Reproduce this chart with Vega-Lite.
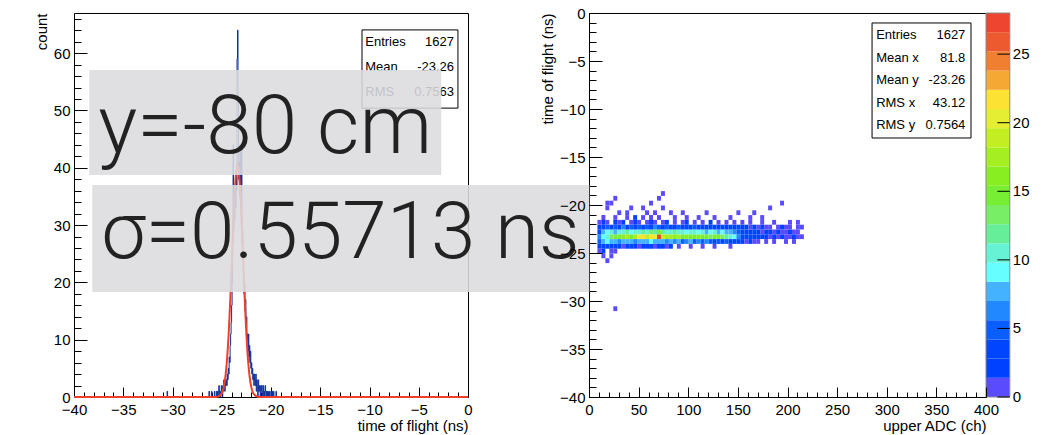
{
  "$schema": "https://vega.github.io/schema/vega-lite/v6.json",
  "background": "white",
  "padding": {"left": 33, "top": 5, "right": 0, "bottom": 0},
  "bounds": "flush",
  "spacing": 121,
  "config": {
    "view": {"stroke": "#000", "strokeWidth": 1},
    "font": "Liberation Sans",
    "axis": {"grid": false, "domain": false, "labelFont": "Liberation Sans", "labelFontSize": 15, "labelColor": "#000", "titleFont": "Liberation Sans", "titleFontSize": 15, "titleFontWeight": "normal", "titleColor": "#000", "tickColor": "#000", "tickWidth": 1, "labelFlush": false, "labelOverlap": false}
  },
  "datasets": {
    "hist": [
      {"t": -40, "n": 0}, {"t": -30.55, "n": 1}, {"t": -30.5, "n": 0}, {"t": -26.3, "n": 1}, {"t": -26.25, "n": 0},
      {"t": -26.05, "n": 1}, {"t": -26.0, "n": 0}, {"t": -25.75, "n": 1}, {"t": -25.7, "n": 0}, {"t": -25.55, "n": 1},
      {"t": -25.5, "n": 0}, {"t": -25.45, "n": 1}, {"t": -25.4, "n": 0}, {"t": -25.35, "n": 1}, {"t": -25.3, "n": 2},
      {"t": -25.25, "n": 0}, {"t": -25.2, "n": 1}, {"t": -25.15, "n": 0}, {"t": -25.1, "n": 1}, {"t": -25.05, "n": 2},
      {"t": -25.0, "n": 1}, {"t": -24.95, "n": 0}, {"t": -24.9, "n": 2}, {"t": -24.85, "n": 1}, {"t": -24.8, "n": 3},
      {"t": -24.75, "n": 2}, {"t": -24.7, "n": 1}, {"t": -24.65, "n": 3}, {"t": -24.6, "n": 2}, {"t": -24.55, "n": 3},
      {"t": -24.5, "n": 2}, {"t": -24.45, "n": 4}, {"t": -24.4, "n": 3}, {"t": -24.35, "n": 5}, {"t": -24.3, "n": 4},
      {"t": -24.25, "n": 7}, {"t": -24.2, "n": 6}, {"t": -24.15, "n": 9}, {"t": -24.1, "n": 11}, {"t": -24.05, "n": 13},
      {"t": -24.0, "n": 16}, {"t": -23.95, "n": 20}, {"t": -23.9, "n": 27}, {"t": -23.85, "n": 44}, {"t": -23.8, "n": 29},
      {"t": -23.75, "n": 35}, {"t": -23.7, "n": 31}, {"t": -23.65, "n": 37}, {"t": -23.6, "n": 33}, {"t": -23.55, "n": 39},
      {"t": -23.5, "n": 36}, {"t": -23.45, "n": 59}, {"t": -23.4, "n": 64}, {"t": -23.35, "n": 52}, {"t": -23.3, "n": 38},
      {"t": -23.25, "n": 41}, {"t": -23.2, "n": 35}, {"t": -23.15, "n": 44}, {"t": -23.1, "n": 37}, {"t": -23.05, "n": 32},
      {"t": -23.0, "n": 44}, {"t": -22.95, "n": 27}, {"t": -22.9, "n": 29}, {"t": -22.85, "n": 24}, {"t": -22.8, "n": 22},
      {"t": -22.75, "n": 18}, {"t": -22.7, "n": 20}, {"t": -22.65, "n": 15}, {"t": -22.6, "n": 17}, {"t": -22.55, "n": 12},
      {"t": -22.5, "n": 14}, {"t": -22.45, "n": 10}, {"t": -22.4, "n": 11}, {"t": -22.35, "n": 8}, {"t": -22.3, "n": 11},
      {"t": -22.25, "n": 7}, {"t": -22.2, "n": 9}, {"t": -22.15, "n": 6}, {"t": -22.1, "n": 8}, {"t": -22.05, "n": 5},
      {"t": -22.0, "n": 6}, {"t": -21.95, "n": 4}, {"t": -21.9, "n": 5}, {"t": -21.85, "n": 3}, {"t": -21.8, "n": 4},
      {"t": -21.75, "n": 2}, {"t": -21.7, "n": 4}, {"t": -21.65, "n": 3}, {"t": -21.6, "n": 2}, {"t": -21.55, "n": 4},
      {"t": -21.5, "n": 1}, {"t": -21.45, "n": 3}, {"t": -21.4, "n": 2}, {"t": -21.35, "n": 0}, {"t": -21.3, "n": 3},
      {"t": -21.25, "n": 1}, {"t": -21.2, "n": 2}, {"t": -21.15, "n": 1}, {"t": -21.1, "n": 0}, {"t": -21.05, "n": 2},
      {"t": -21.0, "n": 1}, {"t": -20.95, "n": 2}, {"t": -20.9, "n": 0}, {"t": -20.85, "n": 1}, {"t": -20.8, "n": 2},
      {"t": -20.75, "n": 0}, {"t": -20.7, "n": 1}, {"t": -20.65, "n": 0}, {"t": -20.6, "n": 2}, {"t": -20.55, "n": 1},
      {"t": -20.5, "n": 0}, {"t": -20.45, "n": 1}, {"t": -20.4, "n": 0}, {"t": -20.35, "n": 1}, {"t": -20.3, "n": 1},
      {"t": -20.25, "n": 0}, {"t": -20.15, "n": 1}, {"t": -20.1, "n": 0}, {"t": -20.0, "n": 1}, {"t": -19.95, "n": 0},
      {"t": -19.9, "n": 1}, {"t": -19.85, "n": 0}, {"t": -19.75, "n": 1}, {"t": -19.7, "n": 0}, {"t": -19.5, "n": 1},
      {"t": -19.45, "n": 0}, {"t": 0, "n": 0}
    ],
    "fit": [
      {"t": -40, "f": 0}, {"t": -25.6, "f": 0}, {"t": -25.4, "f": 0.06}, {"t": -25.2, "f": 0.22}, {"t": -25.0, "f": 0.65},
      {"t": -24.9, "f": 1.08}, {"t": -24.8, "f": 1.72}, {"t": -24.7, "f": 2.66}, {"t": -24.6, "f": 3.98}, {"t": -24.5, "f": 5.76},
      {"t": -24.4, "f": 8.08}, {"t": -24.3, "f": 10.98}, {"t": -24.2, "f": 14.44}, {"t": -24.1, "f": 18.39}, {"t": -24.0, "f": 22.67},
      {"t": -23.9, "f": 27.07}, {"t": -23.8, "f": 31.29}, {"t": -23.7, "f": 35.03}, {"t": -23.6, "f": 37.97}, {"t": -23.5, "f": 39.85},
      {"t": -23.4, "f": 40.5}, {"t": -23.3, "f": 39.85}, {"t": -23.2, "f": 37.97}, {"t": -23.1, "f": 35.03}, {"t": -23.0, "f": 31.29},
      {"t": -22.9, "f": 27.07}, {"t": -22.8, "f": 22.67}, {"t": -22.7, "f": 18.39}, {"t": -22.6, "f": 14.44}, {"t": -22.5, "f": 10.98},
      {"t": -22.4, "f": 8.08}, {"t": -22.3, "f": 5.76}, {"t": -22.2, "f": 3.98}, {"t": -22.1, "f": 2.66}, {"t": -22.0, "f": 1.72},
      {"t": -21.9, "f": 1.08}, {"t": -21.8, "f": 0.65}, {"t": -21.6, "f": 0.22}, {"t": -21.4, "f": 0.06}, {"t": -21.2, "f": 0},
      {"t": 0, "f": 0}
    ],
    "h2": [
      {"a": 8, "t": -23.5, "c": 6}, {"a": 12, "t": -23.5, "c": 9}, {"a": 16, "t": -23.5, "c": 11}, {"a": 20, "t": -23.5, "c": 13},
      {"a": 24, "t": -23.5, "c": 15}, {"a": 28, "t": -23.5, "c": 14}, {"a": 32, "t": -23.5, "c": 16}, {"a": 36, "t": -23.5, "c": 17},
      {"a": 40, "t": -23.5, "c": 15}, {"a": 44, "t": -23.5, "c": 18}, {"a": 48, "t": -23.5, "c": 20}, {"a": 52, "t": -23.5, "c": 21},
      {"a": 56, "t": -23.5, "c": 19}, {"a": 60, "t": -23.5, "c": 22}, {"a": 64, "t": -23.5, "c": 20}, {"a": 68, "t": -23.5, "c": 27},
      {"a": 72, "t": -23.5, "c": 19}, {"a": 76, "t": -23.5, "c": 17}, {"a": 80, "t": -23.5, "c": 18}, {"a": 84, "t": -23.5, "c": 16},
      {"a": 88, "t": -23.5, "c": 17}, {"a": 92, "t": -23.5, "c": 15}, {"a": 96, "t": -23.5, "c": 16}, {"a": 100, "t": -23.5, "c": 14},
      {"a": 104, "t": -23.5, "c": 15}, {"a": 108, "t": -23.5, "c": 16}, {"a": 112, "t": -23.5, "c": 14}, {"a": 116, "t": -23.5, "c": 15},
      {"a": 120, "t": -23.5, "c": 13}, {"a": 124, "t": -23.5, "c": 14}, {"a": 128, "t": -23.5, "c": 15}, {"a": 132, "t": -23.5, "c": 13},
      {"a": 136, "t": -23.5, "c": 12}, {"a": 140, "t": -23.5, "c": 11}, {"a": 144, "t": -23.5, "c": 9}, {"a": 148, "t": -23.5, "c": 6},
      {"a": 152, "t": -23.5, "c": 4}, {"a": 156, "t": -23.5, "c": 3}, {"a": 160, "t": -23.5, "c": 3}, {"a": 164, "t": -23.5, "c": 2},
      {"a": 168, "t": -23.5, "c": 3}, {"a": 172, "t": -23.5, "c": 2}, {"a": 176, "t": -23.5, "c": 2}, {"a": 180, "t": -23.5, "c": 1},
      {"a": 184, "t": -23.5, "c": 2}, {"a": 188, "t": -23.5, "c": 1}, {"a": 192, "t": -23.5, "c": 2}, {"a": 196, "t": -23.5, "c": 1},
      {"a": 200, "t": -23.5, "c": 1}, {"a": 204, "t": -23.5, "c": 2}, {"a": 208, "t": -23.5, "c": 1}, {"a": 212, "t": -23.5, "c": 1},

      {"a": 8, "t": -23.0, "c": 4}, {"a": 12, "t": -23.0, "c": 7}, {"a": 16, "t": -23.0, "c": 9}, {"a": 20, "t": -23.0, "c": 10},
      {"a": 24, "t": -23.0, "c": 8}, {"a": 28, "t": -23.0, "c": 11}, {"a": 32, "t": -23.0, "c": 10}, {"a": 36, "t": -23.0, "c": 12},
      {"a": 40, "t": -23.0, "c": 9}, {"a": 44, "t": -23.0, "c": 11}, {"a": 48, "t": -23.0, "c": 10}, {"a": 52, "t": -23.0, "c": 12},
      {"a": 56, "t": -23.0, "c": 11}, {"a": 60, "t": -23.0, "c": 13}, {"a": 64, "t": -23.0, "c": 12}, {"a": 68, "t": -23.0, "c": 14},
      {"a": 72, "t": -23.0, "c": 12}, {"a": 76, "t": -23.0, "c": 10}, {"a": 80, "t": -23.0, "c": 11}, {"a": 84, "t": -23.0, "c": 12},
      {"a": 88, "t": -23.0, "c": 10}, {"a": 92, "t": -23.0, "c": 11}, {"a": 96, "t": -23.0, "c": 9}, {"a": 100, "t": -23.0, "c": 10},
      {"a": 104, "t": -23.0, "c": 11}, {"a": 108, "t": -23.0, "c": 9}, {"a": 112, "t": -23.0, "c": 10}, {"a": 116, "t": -23.0, "c": 8},
      {"a": 120, "t": -23.0, "c": 9}, {"a": 124, "t": -23.0, "c": 10}, {"a": 128, "t": -23.0, "c": 8}, {"a": 132, "t": -23.0, "c": 9},
      {"a": 136, "t": -23.0, "c": 7}, {"a": 140, "t": -23.0, "c": 8}, {"a": 144, "t": -23.0, "c": 6}, {"a": 148, "t": -23.0, "c": 5},
      {"a": 152, "t": -23.0, "c": 3}, {"a": 156, "t": -23.0, "c": 4}, {"a": 160, "t": -23.0, "c": 2}, {"a": 164, "t": -23.0, "c": 3},
      {"a": 168, "t": -23.0, "c": 2}, {"a": 172, "t": -23.0, "c": 1}, {"a": 176, "t": -23.0, "c": 2}, {"a": 180, "t": -23.0, "c": 2},
      {"a": 184, "t": -23.0, "c": 1}, {"a": 188, "t": -23.0, "c": 2}, {"a": 192, "t": -23.0, "c": 1}, {"a": 196, "t": -23.0, "c": 1},
      {"a": 200, "t": -23.0, "c": 2}, {"a": 204, "t": -23.0, "c": 1}, {"a": 208, "t": -23.0, "c": 1},

      {"a": 8, "t": -24.0, "c": 5}, {"a": 12, "t": -24.0, "c": 8}, {"a": 16, "t": -24.0, "c": 9}, {"a": 20, "t": -24.0, "c": 7},
      {"a": 24, "t": -24.0, "c": 8}, {"a": 28, "t": -24.0, "c": 6}, {"a": 32, "t": -24.0, "c": 8}, {"a": 36, "t": -24.0, "c": 7},
      {"a": 40, "t": -24.0, "c": 8}, {"a": 44, "t": -24.0, "c": 6}, {"a": 48, "t": -24.0, "c": 7}, {"a": 52, "t": -24.0, "c": 8},
      {"a": 56, "t": -24.0, "c": 7}, {"a": 60, "t": -24.0, "c": 9}, {"a": 64, "t": -24.0, "c": 8}, {"a": 68, "t": -24.0, "c": 7},
      {"a": 72, "t": -24.0, "c": 8}, {"a": 76, "t": -24.0, "c": 6}, {"a": 80, "t": -24.0, "c": 7}, {"a": 84, "t": -24.0, "c": 6},
      {"a": 88, "t": -24.0, "c": 7}, {"a": 92, "t": -24.0, "c": 5}, {"a": 96, "t": -24.0, "c": 6}, {"a": 100, "t": -24.0, "c": 7},
      {"a": 104, "t": -24.0, "c": 5}, {"a": 108, "t": -24.0, "c": 6}, {"a": 112, "t": -24.0, "c": 5}, {"a": 116, "t": -24.0, "c": 6},
      {"a": 120, "t": -24.0, "c": 5}, {"a": 124, "t": -24.0, "c": 4}, {"a": 128, "t": -24.0, "c": 5}, {"a": 132, "t": -24.0, "c": 4},
      {"a": 136, "t": -24.0, "c": 5}, {"a": 140, "t": -24.0, "c": 3}, {"a": 144, "t": -24.0, "c": 4}, {"a": 148, "t": -24.0, "c": 3},
      {"a": 152, "t": -24.0, "c": 2}, {"a": 156, "t": -24.0, "c": 1}, {"a": 160, "t": -24.0, "c": 2}, {"a": 164, "t": -24.0, "c": 1},
      {"a": 168, "t": -24.0, "c": 1}, {"a": 176, "t": -24.0, "c": 1}, {"a": 184, "t": -24.0, "c": 1}, {"a": 196, "t": -24.0, "c": 1},
      {"a": 204, "t": -24.0, "c": 1},

      {"a": 8, "t": -24.5, "c": 3}, {"a": 12, "t": -24.5, "c": 4}, {"a": 16, "t": -24.5, "c": 3}, {"a": 20, "t": -24.5, "c": 2},
      {"a": 24, "t": -24.5, "c": 3}, {"a": 28, "t": -24.5, "c": 2}, {"a": 32, "t": -24.5, "c": 1}, {"a": 36, "t": -24.5, "c": 2},
      {"a": 40, "t": -24.5, "c": 3}, {"a": 44, "t": -24.5, "c": 2}, {"a": 48, "t": -24.5, "c": 1}, {"a": 52, "t": -24.5, "c": 2},
      {"a": 56, "t": -24.5, "c": 2}, {"a": 60, "t": -24.5, "c": 3}, {"a": 64, "t": -24.5, "c": 1}, {"a": 68, "t": -24.5, "c": 2},
      {"a": 72, "t": -24.5, "c": 2}, {"a": 76, "t": -24.5, "c": 1}, {"a": 80, "t": -24.5, "c": 2}, {"a": 88, "t": -24.5, "c": 1},
      {"a": 100, "t": -24.5, "c": 1}, {"a": 112, "t": -24.5, "c": 1}, {"a": 124, "t": -24.5, "c": 1}, {"a": 140, "t": -24.5, "c": 1},

      {"a": 8, "t": -22.5, "c": 3}, {"a": 12, "t": -22.5, "c": 4}, {"a": 16, "t": -22.5, "c": 5}, {"a": 20, "t": -22.5, "c": 4},
      {"a": 24, "t": -22.5, "c": 5}, {"a": 28, "t": -22.5, "c": 4}, {"a": 32, "t": -22.5, "c": 6}, {"a": 36, "t": -22.5, "c": 4},
      {"a": 40, "t": -22.5, "c": 5}, {"a": 44, "t": -22.5, "c": 4}, {"a": 48, "t": -22.5, "c": 5}, {"a": 52, "t": -22.5, "c": 3},
      {"a": 56, "t": -22.5, "c": 5}, {"a": 60, "t": -22.5, "c": 4}, {"a": 64, "t": -22.5, "c": 6}, {"a": 68, "t": -22.5, "c": 5},
      {"a": 72, "t": -22.5, "c": 4}, {"a": 76, "t": -22.5, "c": 5}, {"a": 80, "t": -22.5, "c": 3}, {"a": 84, "t": -22.5, "c": 4},
      {"a": 88, "t": -22.5, "c": 5}, {"a": 92, "t": -22.5, "c": 4}, {"a": 96, "t": -22.5, "c": 3}, {"a": 100, "t": -22.5, "c": 4},
      {"a": 104, "t": -22.5, "c": 5}, {"a": 108, "t": -22.5, "c": 3}, {"a": 112, "t": -22.5, "c": 4}, {"a": 116, "t": -22.5, "c": 3},
      {"a": 120, "t": -22.5, "c": 4}, {"a": 124, "t": -22.5, "c": 3}, {"a": 128, "t": -22.5, "c": 4}, {"a": 132, "t": -22.5, "c": 3},
      {"a": 136, "t": -22.5, "c": 2}, {"a": 140, "t": -22.5, "c": 3}, {"a": 144, "t": -22.5, "c": 2}, {"a": 148, "t": -22.5, "c": 3},
      {"a": 152, "t": -22.5, "c": 2}, {"a": 156, "t": -22.5, "c": 2}, {"a": 160, "t": -22.5, "c": 1}, {"a": 164, "t": -22.5, "c": 2},
      {"a": 168, "t": -22.5, "c": 1}, {"a": 172, "t": -22.5, "c": 2}, {"a": 176, "t": -22.5, "c": 1}, {"a": 180, "t": -22.5, "c": 1},
      {"a": 188, "t": -22.5, "c": 1}, {"a": 192, "t": -22.5, "c": 2}, {"a": 196, "t": -22.5, "c": 1}, {"a": 200, "t": -22.5, "c": 1},
      {"a": 208, "t": -22.5, "c": 1}, {"a": 212, "t": -22.5, "c": 1},

      {"a": 8, "t": -22.0, "c": 1}, {"a": 12, "t": -22.0, "c": 2}, {"a": 16, "t": -22.0, "c": 1}, {"a": 24, "t": -22.0, "c": 2},
      {"a": 28, "t": -22.0, "c": 1}, {"a": 32, "t": -22.0, "c": 2}, {"a": 40, "t": -22.0, "c": 1}, {"a": 44, "t": -22.0, "c": 2},
      {"a": 48, "t": -22.0, "c": 1}, {"a": 56, "t": -22.0, "c": 1}, {"a": 60, "t": -22.0, "c": 2}, {"a": 64, "t": -22.0, "c": 1},
      {"a": 72, "t": -22.0, "c": 1}, {"a": 76, "t": -22.0, "c": 2}, {"a": 84, "t": -22.0, "c": 1}, {"a": 92, "t": -22.0, "c": 1},
      {"a": 96, "t": -22.0, "c": 2}, {"a": 104, "t": -22.0, "c": 1}, {"a": 112, "t": -22.0, "c": 1}, {"a": 120, "t": -22.0, "c": 2},
      {"a": 128, "t": -22.0, "c": 1}, {"a": 136, "t": -22.0, "c": 1}, {"a": 144, "t": -22.0, "c": 1}, {"a": 152, "t": -22.0, "c": 1},
      {"a": 160, "t": -22.0, "c": 1}, {"a": 172, "t": -22.0, "c": 1}, {"a": 184, "t": -22.0, "c": 1}, {"a": 200, "t": -22.0, "c": 1},
      {"a": 208, "t": -22.0, "c": 1},

      {"a": 12, "t": -21.5, "c": 1}, {"a": 24, "t": -21.5, "c": 1}, {"a": 36, "t": -21.5, "c": 1}, {"a": 44, "t": -21.5, "c": 2},
      {"a": 52, "t": -21.5, "c": 1}, {"a": 60, "t": -21.5, "c": 1}, {"a": 68, "t": -21.5, "c": 1}, {"a": 84, "t": -21.5, "c": 1},
      {"a": 96, "t": -21.5, "c": 1}, {"a": 108, "t": -21.5, "c": 1}, {"a": 124, "t": -21.5, "c": 1}, {"a": 140, "t": -21.5, "c": 1},
      {"a": 160, "t": -21.5, "c": 1}, {"a": 172, "t": -21.5, "c": 1},

      {"a": 28, "t": -21.0, "c": 1}, {"a": 36, "t": -21.0, "c": 1}, {"a": 56, "t": -21.0, "c": 1}, {"a": 64, "t": -21.0, "c": 1},
      {"a": 80, "t": -21.0, "c": 1}, {"a": 92, "t": -21.0, "c": 1}, {"a": 116, "t": -21.0, "c": 1}, {"a": 148, "t": -21.0, "c": 1},
      {"a": 164, "t": -21.0, "c": 1},
      {"a": 16, "t": -20.5, "c": 1}, {"a": 40, "t": -20.5, "c": 1}, {"a": 52, "t": -20.5, "c": 1}, {"a": 72, "t": -20.5, "c": 1},
      {"a": 180, "t": -20.5, "c": 1},
      {"a": 16, "t": -20.0, "c": 1}, {"a": 20, "t": -20.0, "c": 1}, {"a": 60, "t": -20.0, "c": 1}, {"a": 192, "t": -20.0, "c": 1},
      {"a": 24, "t": -19.5, "c": 1}, {"a": 68, "t": -19.5, "c": 1}, {"a": 72, "t": -19.0, "c": 1},
      {"a": 8, "t": -25.0, "c": 1}, {"a": 12, "t": -25.0, "c": 2}, {"a": 20, "t": -25.0, "c": 1}, {"a": 24, "t": -25.0, "c": 1},
      {"a": 12, "t": -25.5, "c": 1}, {"a": 20, "t": -25.5, "c": 1}, {"a": 16, "t": -26.0, "c": 1}, {"a": 24, "t": -31.0, "c": 1}
    ],
    "levels": [
      {"lo": 0, "hi": 1.4, "mid": 0.7}, {"lo": 1.4, "hi": 2.8, "mid": 2.1}, {"lo": 2.8, "hi": 4.2, "mid": 3.5},
      {"lo": 4.2, "hi": 5.6, "mid": 4.9}, {"lo": 5.6, "hi": 7.0, "mid": 6.3}, {"lo": 7.0, "hi": 8.4, "mid": 7.7},
      {"lo": 8.4, "hi": 9.8, "mid": 9.1}, {"lo": 9.8, "hi": 11.2, "mid": 10.5}, {"lo": 11.2, "hi": 12.6, "mid": 11.9},
      {"lo": 12.6, "hi": 14.0, "mid": 13.3}, {"lo": 14.0, "hi": 15.4, "mid": 14.7}, {"lo": 15.4, "hi": 16.8, "mid": 16.1},
      {"lo": 16.8, "hi": 18.2, "mid": 17.5}, {"lo": 18.2, "hi": 19.6, "mid": 18.9}, {"lo": 19.6, "hi": 21.0, "mid": 20.3},
      {"lo": 21.0, "hi": 22.4, "mid": 21.7}, {"lo": 22.4, "hi": 23.8, "mid": 23.1}, {"lo": 23.8, "hi": 25.2, "mid": 24.5},
      {"lo": 25.2, "hi": 26.6, "mid": 25.9}, {"lo": 26.6, "hi": 28.0, "mid": 27.3}
    ],
    "zticks": [{"v": 0}, {"v": 5}, {"v": 10}, {"v": 15}, {"v": 20}, {"v": 25}],
    "stats1": [{"labels": "Entries\nMean\nRMS", "values": "1627\n-23.26\n0.7563"}],
    "stats2": [{"labels": "Entries\nMean x\nMean y\nRMS x\nRMS y", "values": "1627\n81.8\n-23.26\n43.12\n0.7564"}]
  },
  "hconcat": [
    {
      "width": 394,
      "height": 384,
      "layer": [
        {
          "data": {"name": "hist"},
          "mark": {"type": "line", "interpolate": "step-after", "color": "#10309a", "strokeWidth": 1},
          "encoding": {
            "x": {"field": "t", "type": "quantitative", "scale": {"domain": [-40, 0], "nice": false, "zero": false},
              "axis": {"orient": "bottom", "values": [-40, -35, -30, -25, -20, -15, -10, -5, 0], "format": "d", "tickSize": -10, "labelPadding": 15, "title": "time of flight (ns)", "titleAnchor": "end", "titlePadding": 1}},
            "y": {"field": "n", "type": "quantitative", "scale": {"domain": [0, 67], "nice": false, "zero": false},
              "axis": {"orient": "left", "values": [0, 10, 20, 30, 40, 50, 60], "format": "d", "tickSize": -13, "labelPadding": 17, "title": "count", "titleAnchor": "end", "titlePadding": 4}}
          }
        },
        {
          "data": {"name": "fit"},
          "mark": {"type": "line", "color": "#f0402a", "strokeWidth": 2},
          "encoding": {
            "x": {"field": "t", "type": "quantitative", "scale": {"domain": [-40, 0], "nice": false, "zero": false},
              "axis": {"orient": "bottom", "values": [-40, -39, -38, -37, -36, -35, -34, -33, -32, -31, -30, -29, -28, -27, -26, -25, -24, -23, -22, -21, -20, -19, -18, -17, -16, -15, -14, -13, -12, -11, -10, -9, -8, -7, -6, -5, -4, -3, -2, -1, 0], "tickSize": -5, "labels": false, "title": null}},
            "y": {"field": "f", "type": "quantitative", "scale": {"domain": [0, 67], "nice": false, "zero": false},
              "axis": {"orient": "left", "values": [0, 2, 4, 6, 8, 10, 12, 14, 16, 18, 20, 22, 24, 26, 28, 30, 32, 34, 36, 38, 40, 42, 44, 46, 48, 50, 52, 54, 56, 58, 60, 62, 64, 66], "tickSize": -7, "labels": false, "title": null}}
          }
        },
        {
          "data": {"name": "stats1"},
          "mark": {"type": "rect", "fill": "#ffffff", "stroke": "#000", "strokeWidth": 1},
          "encoding": {
            "x": {"datum": -10.76, "axis": null}, "x2": {"datum": -1.02},
            "y": {"datum": 64.05, "axis": null}, "y2": {"datum": 50.4}
          }
        },
        {
          "data": {"name": "stats1"},
          "mark": {"type": "text", "align": "left", "baseline": "alphabetic", "lineBreak": "\n", "lineHeight": 25, "fontSize": 13, "font": "Liberation Sans", "color": "#000"},
          "encoding": {"x": {"datum": -10.43, "axis": null}, "y": {"datum": 61.26, "axis": null}, "text": {"field": "labels"}}
        },
        {
          "data": {"name": "stats1"},
          "mark": {"type": "text", "align": "right", "baseline": "alphabetic", "lineBreak": "\n", "lineHeight": 25, "fontSize": 13, "font": "Liberation Sans", "color": "#000"},
          "encoding": {"x": {"datum": -1.42, "axis": null}, "y": {"datum": 61.26, "axis": null}, "text": {"field": "values"}}
        }
      ],
      "resolve": {"axis": {"x": "independent", "y": "independent"}}
    },
    {
      "width": 397,
      "height": 384,
      "layer": [
        {
          "layer": [
            {
              "data": {"name": "h2"},
              "mark": {"type": "rect", "binSpacing": 0},
              "encoding": {
                "x": {"field": "a", "type": "quantitative", "bin": {"binned": true, "step": 4}, "scale": {"domain": [0, 400], "nice": false, "zero": false},
                  "axis": {"orient": "bottom", "values": [0, 50, 100, 150, 200, 250, 300, 350, 400], "format": "d", "tickSize": -10, "labelPadding": 15, "title": "upper ADC (ch)", "titleAnchor": "end", "titlePadding": 1}},
                "y": {"field": "t", "type": "quantitative", "bin": {"binned": true, "step": 0.5}, "scale": {"domain": [-40, 0], "nice": false, "zero": false},
                  "axis": {"orient": "left", "values": [-40, -35, -30, -25, -20, -15, -10, -5, 0], "format": "d", "tickSize": -13, "labelPadding": 17, "title": "time of flight (ns)", "titleAnchor": "end", "titlePadding": 4}},
                "color": {"field": "c", "type": "quantitative", "legend": null,
                  "scale": {"type": "quantize", "domain": [0, 28], "nice": false, "range": ["#5b4bff", "#0040ff", "#0046ff", "#0a5eff", "#2288ff", "#44b2ff", "#66ffff", "#66f2d4", "#66ee99", "#77ee66", "#77ee33", "#88ee22", "#a5ee22", "#c3ee22", "#e5ee33", "#fbe233", "#f5a833", "#f08030", "#ee5a30", "#ee4530"]}}
              }
            },
            {
              "data": {"name": "stats2"},
              "mark": {"type": "rect", "fill": "#ffffff", "stroke": "#000", "strokeWidth": 1},
              "encoding": {
                "x": {"datum": 285.2, "scale": {"domain": [0, 400], "nice": false, "zero": false},
                  "axis": {"orient": "bottom", "values": [0, 10, 20, 30, 40, 50, 60, 70, 80, 90, 100, 110, 120, 130, 140, 150, 160, 170, 180, 190, 200, 210, 220, 230, 240, 250, 260, 270, 280, 290, 300, 310, 320, 330, 340, 350, 360, 370, 380, 390, 400], "tickSize": -5, "labels": false, "title": null}},
                "x2": {"datum": 384.9},
                "y": {"datum": -1.04, "scale": {"domain": [-40, 0], "nice": false, "zero": false},
                  "axis": {"orient": "left", "values": [-40, -39, -38, -37, -36, -35, -34, -33, -32, -31, -30, -29, -28, -27, -26, -25, -24, -23, -22, -21, -20, -19, -18, -17, -16, -15, -14, -13, -12, -11, -10, -9, -8, -7, -6, -5, -4, -3, -2, -1, 0], "tickSize": -7, "labels": false, "title": null}},
                "y2": {"datum": -13.02}
              }
            },
            {
              "data": {"name": "stats2"},
              "mark": {"type": "text", "align": "left", "baseline": "alphabetic", "lineBreak": "\n", "lineHeight": 22.5, "fontSize": 13, "font": "Liberation Sans", "color": "#000"},
              "encoding": {"x": {"datum": 289.3, "axis": null}, "y": {"datum": -2.76, "axis": null}, "text": {"field": "labels"}}
            },
            {
              "data": {"name": "stats2"},
              "mark": {"type": "text", "align": "right", "baseline": "alphabetic", "lineBreak": "\n", "lineHeight": 22.5, "fontSize": 13, "font": "Liberation Sans", "color": "#000"},
              "encoding": {"x": {"datum": 379.2, "axis": null}, "y": {"datum": -2.76, "axis": null}, "text": {"field": "values"}}
            },
            {
              "data": {"values": [{"label": "y=-80 cm"}]},
              "mark": {"type": "rect", "fill": "#dcdcdf", "opacity": 0.88},
              "encoding": {"x": {"datum": -503.5, "axis": null}, "x2": {"datum": -148.8}, "y": {"datum": -5.94, "axis": null}, "y2": {"datum": -16.875}}
            },
            {
              "data": {"values": [{"label": "σ=0.55713 ns"}]},
              "mark": {"type": "rect", "fill": "#dcdcdf", "opacity": 0.88},
              "encoding": {"x": {"datum": -500.5, "axis": null}, "x2": {"datum": 0.3}, "y": {"datum": -17.92, "axis": null}, "y2": {"datum": -29.06}}
            },
            {
              "data": {"values": [{"label": "y=-80 cm"}]},
              "mark": {"type": "text", "align": "left", "baseline": "alphabetic", "font": "Roboto", "fontWeight": 300, "fontSize": 82, "color": "#222222"},
              "encoding": {"x": {"datum": -494.4, "axis": null}, "y": {"datum": -14.58, "axis": null}, "text": {"field": "label"}}
            },
            {
              "data": {"values": [{"label": "σ=0.55713 ns"}]},
              "mark": {"type": "text", "align": "left", "baseline": "alphabetic", "font": "Roboto", "fontWeight": 300, "fontSize": 80, "color": "#222222"},
              "encoding": {"x": {"datum": -491.4, "axis": null}, "y": {"datum": -25.52, "axis": null}, "text": {"field": "label"}}
            }
          ],
          "resolve": {"axis": {"x": "independent", "y": "independent"}}
        },
        {
          "layer": [
            {
              "data": {"name": "levels"},
              "mark": {"type": "rect"},
              "encoding": {
                "x": {"datum": 400, "axis": null}, "x2": {"datum": 424},
                "y": {"field": "lo", "type": "quantitative", "scale": {"domain": [0, 28], "nice": false, "zero": false}, "axis": null},
                "y2": {"field": "hi"},
                "color": {"field": "mid", "type": "quantitative", "legend": null,
                  "scale": {"type": "quantize", "domain": [0, 28], "nice": false, "range": ["#5b4bff", "#0040ff", "#0046ff", "#0a5eff", "#2288ff", "#44b2ff", "#66ffff", "#66f2d4", "#66ee99", "#77ee66", "#77ee33", "#88ee22", "#a5ee22", "#c3ee22", "#e5ee33", "#fbe233", "#f5a833", "#f08030", "#ee5a30", "#ee4530"]}}
              }
            },
            {
              "data": {"name": "stats2"},
              "mark": {"type": "rect", "fill": null, "stroke": "#8a8a8a", "strokeWidth": 1},
              "encoding": {"x": {"datum": 400, "axis": null}, "x2": {"datum": 424}, "y": {"datum": 0, "axis": null}, "y2": {"datum": 28}}
            },
            {
              "data": {"name": "zticks"},
              "mark": {"type": "rule", "color": "#000", "strokeWidth": 1},
              "encoding": {"x": {"datum": 411.5, "axis": null}, "x2": {"datum": 424}, "y": {"field": "v", "type": "quantitative", "axis": null}}
            },
            {
              "data": {"name": "zticks"},
              "mark": {"type": "text", "align": "left", "baseline": "middle", "fontSize": 15, "font": "Liberation Sans", "color": "#000"},
              "encoding": {"x": {"datum": 427, "axis": null}, "y": {"field": "v", "type": "quantitative", "axis": null}, "text": {"field": "v", "type": "quantitative", "format": "d"}}
            }
          ]
        }
      ],
      "resolve": {"scale": {"y": "independent"}}
    }
  ]
}
